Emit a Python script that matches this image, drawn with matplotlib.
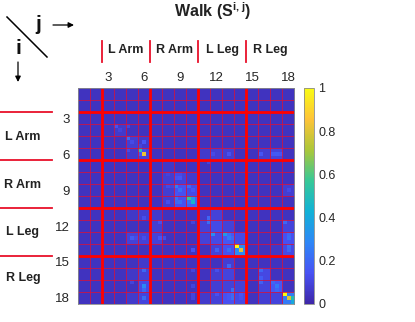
import numpy as np
import matplotlib
matplotlib.use("Agg")
import matplotlib.pyplot as plt
from matplotlib.colors import LinearSegmentedColormap
from matplotlib.lines import Line2D

plt.rcParams['font.family'] = ['Liberation Sans', 'DejaVu Sans']
plt.rcParams['mathtext.fontset'] = 'custom'
plt.rcParams['mathtext.bf'] = 'Liberation Sans:bold'
plt.rcParams['mathtext.rm'] = 'Liberation Sans:bold'

tick_joints = [3, 6, 9, 12, 15, 18]
part_labels = ['L Arm', 'R Arm', 'L Leg', 'R Leg']
part_edges = [2, 6, 10, 14]
label_rows_y = [137, 185, 232, 278]
cbar_ticks = [0, 0.2, 0.4, 0.6, 0.8, 1]
cbar_labels = ['0', '0.2', '0.4', '0.6', '0.8', '1']
background = 0.045
# soft tint per joint pair (row joint, column joint, level)
tint_rows = [3, 4, 4, 5, 5, 8, 8, 9, 9, 7, 7, 8, 9, 6, 7,
             11, 11, 10, 12, 12, 13, 13, 13, 12, 11, 10, 12,
             13, 12, 11, 13,
             17, 16, 15, 16, 17, 17, 14, 15, 16, 17, 17, 16, 17, 15, 16, 17,
             10, 12, 14, 15, 16, 17, 12, 10, 15, 17, 11, 12, 10,
             5, 5, 5, 5, 5, 8]
tint_cols = [3, 4, 5, 5, 4, 8, 9, 9, 8, 8, 7, 7, 7, 7, 9,
             11, 10, 11, 12, 11, 13, 12, 11, 13, 12, 10, 10,
             17, 17, 17, 16,
             17, 16, 15, 15, 16, 15, 12, 12, 12, 12, 13, 13, 11, 11, 11, 10,
             5, 5, 5, 5, 5, 5, 4, 4, 4, 4, 6, 6, 6,
             11, 12, 15, 16, 10, 17]
tint_vals = [.07, .08, .07, .09, .07, .14, .12, .18, .14, .09, .08, .08, .08, .06, .07,
             .12, .09, .09, .16, .12, .3, .14, .09, .12, .09, .07, .09,
             .12, .14, .1, .06,
             .25, .16, .11, .1, .1, .08, .08, .1, .09, .14, .12, .09, .09, .08, .08, .07,
             .08, .09, .07, .09, .12, .1, .09, .06, .06, .07, .08, .09, .07,
             .08, .08, .08, .1, .07, .08]
# individual bright sub-cells (row, column, level) in the 54 x 54 grid
hot_rows = [15, 16, 13, 12, 13, 9, 9, 10, 15, 14, 15, 16,
            24, 25, 27, 27, 24, 24, 21, 21, 22, 21, 22, 28, 28, 27, 28, 28, 26, 26, 28, 25, 24,
            39, 40, 39, 40, 36, 37, 36, 37, 36, 33, 32, 33, 36, 37, 39, 40, 40, 40, 34, 33,
            51, 52, 52, 53, 49, 48, 50, 45, 47, 48, 44, 50, 51, 52, 51, 52, 45, 51, 51, 52,
            45, 49, 50, 52, 48, 37, 37, 37, 33, 37, 32, 37,
            16, 16, 16, 16, 16, 16, 18, 25, 40, 33, 45, 49, 52, 51]
hot_cols = [15, 16, 16, 12, 13, 9, 12, 10, 12, 15, 16, 15,
            24, 25, 27, 28, 22, 23, 22, 24, 24, 25, 25, 27, 28, 24, 24, 25, 24, 25, 22, 28, 27,
            39, 40, 40, 39, 36, 37, 37, 38, 33, 32, 32, 51, 52, 52, 52, 52, 37, 34, 33, 33,
            51, 52, 53, 53, 49, 48, 49, 45, 45, 45, 37, 38, 38, 38, 37, 37, 34, 34, 40, 40,
            16, 16, 16, 16, 13, 13, 16, 20, 20, 14, 16, 21,
            37, 45, 48, 49, 50, 33, 32, 52, 28, 28, 28, 28, 28, 28]
hot_vals = [0.5, 0.82, 0.15, 0.2, 0.12, 0.14, 0.1, 0.1, 0.12, 0.1, 0.12, 0.15,
            0.25, 0.22, 0.55, 0.35, 0.12, 0.1, 0.1, 0.12, 0.14, 0.12, 0.15, 0.22, 0.45, 0.22, 0.2, 0.22, 0.15, 0.14, 0.13, 0.16, 0.2,
            1.0, 0.8, 0.3, 0.3, 0.35, 0.25, 0.22, 0.2, 0.3, 0.22, 0.2, 0.2, 0.2, 0.22, 0.22, 0.2, 0.22, 0.18, 0.12, 0.12,
            1.0, 0.8, 0.5, 0.4, 0.25, 0.2, 0.2, 0.2, 0.17, 0.18, 0.2, 0.22, 0.2, 0.22, 0.16, 0.16, 0.13, 0.14, 0.15, 0.14,
            0.2, 0.3, 0.2, 0.22, 0.1, 0.17, 0.13, 0.15, 0.13, 0.12, 0.13, 0.12,
            0.14, 0.15, 0.16, 0.17, 0.15, 0.12, 0.1, 0.12, 0.14, 0.1, 0.1, 0.1, 0.1, 0.1]

parula = LinearSegmentedColormap.from_list('parula', [
    (0.2422, 0.1504, 0.6603), (0.2810, 0.3228, 0.9579), (0.1786, 0.5289, 0.9682),
    (0.0689, 0.6948, 0.8394), (0.2161, 0.7843, 0.5923), (0.6720, 0.7793, 0.2227),
    (0.9970, 0.7659, 0.2199), (0.9769, 0.9839, 0.0805)])

W, H = 415, 322
fig = plt.figure(figsize=(W / 100, H / 100), dpi=100)

def rect(x0, y0, x1, y1):
    return [x0 / W, 1 - y1 / H, (x1 - x0) / W, (y1 - y0) / H]

def fx(x):
    return x / W

def fy(y):
    return 1 - y / H

matrix = np.full((54, 54), background)
for r, c, v in zip(tint_rows, tint_cols, tint_vals):
    matrix[3 * r:3 * r + 3, 3 * c:3 * c + 3] = v
for r, c, v in zip(hot_rows, hot_cols, hot_vals):
    matrix[r, c] = max(v, matrix[r, c])

ax = fig.add_axes(rect(78, 88, 294, 304))
im = ax.imshow(matrix, cmap=parula, vmin=0, vmax=1, interpolation='nearest',
               extent=(0.5, 18.5, 18.5, 0.5), aspect='auto')
for k in range(1, 19):
    ax.axvline(k + 0.5, color='#d8123a', lw=0.55)
    ax.axhline(k + 0.5, color='#d8123a', lw=0.55)
for k in part_edges:
    ax.axvline(k + 0.5, color='red', lw=2)
    ax.axhline(k + 0.5, color='red', lw=2)
ax.set_xticks(tick_joints)
ax.set_yticks(tick_joints)
ax.xaxis.tick_top()
ax.tick_params(length=0, labelsize=9.5, colors='#262626')
ax.tick_params(axis='x', pad=3)
ax.tick_params(axis='y', pad=6)
for s in ax.spines.values():
    s.set_color('#8a8a8a')
    s.set_linewidth(0.6)

cax = fig.add_axes(rect(304, 88, 314, 304))
cb = fig.colorbar(im, cax=cax)
cb.set_ticks(cbar_ticks)
cb.set_ticklabels(cbar_labels)
cax.tick_params(length=0, labelsize=9, colors='#262626', pad=3)
cb.outline.set_edgecolor('#8a8a8a')
cb.outline.set_linewidth(0.6)

fig.text(fx(213), fy(11), r'$\mathbf{Walk\ (S^{i,j})}$', ha='center', va='center',
         fontsize=11.5, color='#222222')
fig.text(fx(38), fy(25), 'j', ha='center', va='center', fontsize=15, fontweight='bold', color='#111111')
fig.text(fx(18), fy(48), 'i', ha='center', va='center', fontsize=15, fontweight='bold', color='#111111')
fig.add_artist(Line2D([fx(7), fx(47)], [fy(17), fy(57)], color='black', lw=1.1))

overlay = fig.add_axes([0, 0, 1, 1], facecolor='none')
overlay.set_xlim(0, W)
overlay.set_ylim(H, 0)
overlay.axis('off')
overlay.annotate('', xy=(74, 25), xytext=(53, 25),
                 arrowprops=dict(arrowstyle='-|>', color='black', lw=0.9, shrinkA=0, shrinkB=0, mutation_scale=8))
overlay.annotate('', xy=(18, 82), xytext=(18, 62),
                 arrowprops=dict(arrowstyle='-|>', color='black', lw=0.9, shrinkA=0, shrinkB=0, mutation_scale=8))

for i, label in enumerate(part_labels):
    edge_x = 78 + part_edges[i] * 12
    edge_y = 88 + part_edges[i] * 12
    fig.add_artist(Line2D([fx(edge_x), fx(edge_x)], [fy(41), fy(62)], color='#e8102a', lw=1.3))
    fig.add_artist(Line2D([fx(0), fx(52)], [fy(edge_y), fy(edge_y)], color='#e8102a', lw=1.3))
    fig.text(fx(edge_x + 24), fy(50), label, ha='center', va='center', fontsize=9,
             fontweight='bold', color='#222222')
    fig.text(fx(23), fy(label_rows_y[i]), label, ha='center', va='center', fontsize=9,
             fontweight='bold', color='#222222')

fig.savefig('out.png', dpi=100)
